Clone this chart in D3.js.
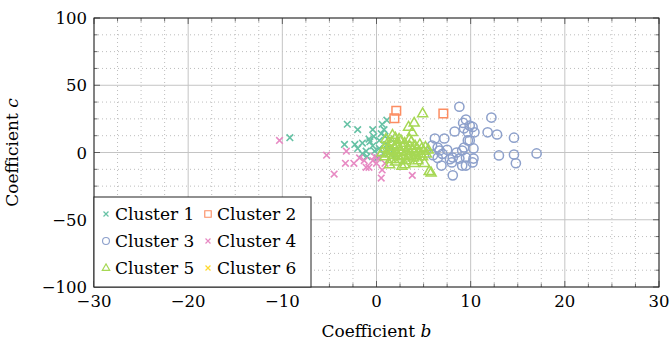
<!DOCTYPE html>
<html>
<head>
<meta charset="utf-8">
<script src="https://cdn.jsdelivr.net/npm/d3@7"></script>
<style>
  body { margin: 0; background: #fff; }
  text { font-family: "DejaVu Serif", "Liberation Serif", serif; }
</style>
</head>
<body>
<div id="chart"></div>
<script>
// cluster data: [b, c]
var cluster1 = [[-9.2, 11], [-3.1, 21], [-2.0, 17], [-0.4, 17], [0.6, 21], [1.1, 24], [-3.4, 6], [-2.3, 6],
  [-1.5, 7], [-0.7, 8], [-0.4, 5], [0.3, 9], [0.9, 12], [1.1, 6], [-1.1, 1], [-0.2, 1], [0.3, 3], [0.7, -1],
  [0.1, -4], [1.2, 1], [1.5, 4], [-2.0, 3], [-1.0, -3], [0.5, 14], [-0.3, 12], [0.8, 17], [1.5, 10],
  [1.8, 2], [-0.8, 10], [2.0, -2], [-1.5, -1]];
var cluster2 = [[2.1, 31], [1.9, 25.5], [7.1, 29]];
var cluster3 = [[8.8, 34], [9.5, 24.5], [9.2, 22], [9.9, 20], [10.2, 19], [9.3, 18], [9.7, 15], [8.3, 15.6],
  [7.2, 10.4], [6.2, 10.4], [5.9, 5.2], [6.5, 3.7], [6.7, 1.5], [9.9, 9], [10.3, 3], [9.1, 1.5], [8.5, 0],
  [8.1, -3.7], [8.8, -4.5], [8.0, -7.4], [9.5, -3.7], [10.2, -7.4], [6.9, -9.7], [8.1, -17], [9.1, -9.7],
  [9.3, 3.7], [12.2, 26], [11.8, 15], [12.8, 13.4], [14.6, 11], [10.4, 15], [13.0, -2.2], [14.6, -1.5],
  [14.8, -8], [17.0, -0.7], [10.3, -4.5], [9.5, -9.7], [6.0, -2], [6.5, -4], [7.0, -1], [7.5, 2],
  [7.8, -5], [9.7, 9]];
var cluster4 = [[-10.3, 9], [-5.3, -2], [-4.5, -16], [-3.2, 1], [-3.3, -8], [-2.4, -8], [-1.8, -4],
  [-1.1, -11], [-0.8, -11], [-0.4, -6], [0.0, -8], [0.6, -13], [0.5, -19], [3.8, -17], [-0.2, -3],
  [0.3, -4], [0.9, -8], [-1.3, -6]];
var cluster5 = [[4.9, 29], [4.0, 22], [3.4, 19], [3.8, 15], [1.7, 13], [2.4, 10], [5.8, -15], [5.1, -8],
  [5.6, -14], [0.6, 0], [0.8, 3], [0.9, -3], [1.1, 6], [1.2, -1], [1.3, 2], [1.5, -5], [1.6, 8], [1.7, 1],
  [1.8, -2], [1.9, 4], [2.0, -7], [2.1, 0], [2.2, 6], [2.3, -3], [2.4, 2], [2.5, -5], [2.6, 9], [2.7, 0],
  [2.8, 4], [2.9, -2], [3.0, 7], [3.1, -6], [3.2, 1], [3.3, 3], [3.4, -3], [3.5, 5], [3.6, -1], [3.7, 8],
  [3.8, 2], [3.9, -4], [4.0, 0], [4.1, 5], [4.2, -2], [4.3, 3], [4.4, -6], [4.5, 1], [4.6, 6], [4.7, -1],
  [4.8, 3], [4.9, -3], [5.0, 1], [5.2, 4], [5.3, -1], [5.5, 2], [1.0, 10], [2.0, 11], [3.5, 10],
  [1.4, -9], [3.0, -9], [4.0, -8], [2.7, -10]];
var cluster6 = [];

var names = ["Cluster 1", "Cluster 2", "Cluster 3", "Cluster 4", "Cluster 5", "Cluster 6"];
var colors = ["#66c2a5", "#fc8d62", "#8da0cb", "#e78ac3", "#a6d854", "#ffd92f"];
var shapes = ["x", "square", "circle", "x", "triangle", "x"];
var xTicks = [-30, -20, -10, 0, 10, 20, 30];
var yTicks = [-100, -50, 0, 50, 100];

var clusters = [cluster1, cluster2, cluster3, cluster4, cluster5, cluster6];

var margin = { top: 18, right: 11, bottom: 53, left: 94 },
    width = 670 - margin.left - margin.right,
    height = 340 - margin.top - margin.bottom;

var svg = d3.select("#chart").append("svg")
    .attr("width", 670)
    .attr("height", 340)
    .append("g")
    .attr("transform", "translate(" + margin.left + "," + margin.top + ")");

var x = d3.scaleLinear().domain([-30, 30]).range([0, width]);
var y = d3.scaleLinear().domain([-100, 100]).range([height, 0]);

// minor ticks: 4 intervals between majors
var xMinor = d3.range(-30, 30.01, 2.5).filter(function (d) { return d % 10 != 0; });
var yMinor = d3.range(-100, 100.01, 12.5).filter(function (d) { return d % 50 != 0; });

// minor grid (dotted)
svg.append("g").selectAll("line").data(xMinor).enter().append("line")
    .attr("x1", function (d) { return x(d); }).attr("x2", function (d) { return x(d); })
    .attr("y1", 0).attr("y2", height)
    .attr("stroke", "#bdbdbd").attr("stroke-width", 1).attr("stroke-dasharray", "1,3");
svg.append("g").selectAll("line").data(yMinor).enter().append("line")
    .attr("y1", function (d) { return y(d); }).attr("y2", function (d) { return y(d); })
    .attr("x1", 0).attr("x2", width)
    .attr("stroke", "#bdbdbd").attr("stroke-width", 1).attr("stroke-dasharray", "1,3");

// major grid
svg.append("g").selectAll("line").data(xTicks).enter().append("line")
    .attr("x1", function (d) { return x(d); }).attr("x2", function (d) { return x(d); })
    .attr("y1", 0).attr("y2", height)
    .attr("stroke", "#c4c4c4").attr("stroke-width", 1);
svg.append("g").selectAll("line").data(yTicks).enter().append("line")
    .attr("y1", function (d) { return y(d); }).attr("y2", function (d) { return y(d); })
    .attr("x1", 0).attr("x2", width)
    .attr("stroke", "#c4c4c4").attr("stroke-width", 1);

// ticks inside, all four sides
function tickLines(vals, len, horizontal) {
    var g = svg.append("g").attr("stroke", "#444").attr("stroke-width", 0.8);
    vals.forEach(function (d) {
        if (horizontal) {
            g.append("line").attr("x1", x(d)).attr("x2", x(d)).attr("y1", height).attr("y2", height - len);
            g.append("line").attr("x1", x(d)).attr("x2", x(d)).attr("y1", 0).attr("y2", len);
        } else {
            g.append("line").attr("y1", y(d)).attr("y2", y(d)).attr("x1", 0).attr("x2", len);
            g.append("line").attr("y1", y(d)).attr("y2", y(d)).attr("x1", width).attr("x2", width - len);
        }
    });
}
tickLines(xMinor, 3.5, true);
tickLines(yMinor, 3.5, false);
tickLines(xTicks, 6, true);
tickLines(yTicks, 6, false);

// markers
function markerPath(shape) {
    if (shape == "x") return "M-3.3,-3.3L3.3,3.3M-3.3,3.3L3.3,-3.3";
    if (shape == "square") return "M-4.3,-4.3H4.3V4.3H-4.3Z";
    if (shape == "triangle") return "M0,-5.5L5,3.2L-5,3.2Z";
    return null;
}
function drawMarker(g, shape, color) {
    if (shape == "circle") {
        g.append("circle").attr("r", 4.6).attr("fill", "none")
            .attr("stroke", color).attr("stroke-width", 1.5);
    } else {
        g.append("path").attr("d", markerPath(shape)).attr("fill", "none")
            .attr("stroke", color).attr("stroke-width", shape == "x" ? 1.6 : 1.5)
            .attr("stroke-linejoin", "miter");
    }
}

var plot = svg.append("g");
clusters.forEach(function (pts, i) {
    pts.forEach(function (p) {
        var g = plot.append("g").attr("transform", "translate(" + x(p[0]) + "," + y(p[1]) + ")");
        drawMarker(g, shapes[i], colors[i]);
    });
});

// frame
svg.append("rect").attr("width", width).attr("height", height)
    .attr("fill", "none").attr("stroke", "#222").attr("stroke-width", 1);

function fmt(d) { return d < 0 ? "\u2212" + Math.abs(d) : String(d); }

// tick labels
svg.append("g").selectAll("text").data(xTicks).enter().append("text")
    .attr("x", function (d) { return x(d); }).attr("y", height + 20)
    .attr("text-anchor", "middle").attr("font-size", 16.5)
    .text(fmt);
svg.append("g").selectAll("text").data(yTicks).enter().append("text")
    .attr("x", -7).attr("y", function (d) { return y(d) + 6; })
    .attr("text-anchor", "end").attr("font-size", 16.5)
    .text(fmt);

// axis labels
var xl = svg.append("text").attr("x", width / 2).attr("y", height + 50)
    .attr("text-anchor", "middle").attr("font-size", 17);
xl.append("tspan").text("Coefficient ");
xl.append("tspan").attr("font-style", "italic").text("b");

var yl = svg.append("text")
    .attr("transform", "translate(" + (-76) + "," + (height / 2) + ") rotate(-90)")
    .attr("text-anchor", "middle").attr("font-size", 17);
yl.append("tspan").text("Coefficient ");
yl.append("tspan").attr("font-style", "italic").text("c");

// legend
var lg = svg.append("g").attr("transform", "translate(0," + (height - 90) + ")");
lg.append("rect").attr("width", 217).attr("height", 90)
    .attr("fill", "#fff").attr("stroke", "#222").attr("stroke-width", 1);
names.forEach(function (n, i) {
    var col = i % 2, row = Math.floor(i / 2);
    var item = lg.append("g").attr("transform", "translate(" + (12 + col * 102) + "," + (17 + row * 27) + ")");
    var m = item.append("g").attr("transform", "scale(0.75)");
    drawMarker(m, shapes[i], colors[i]);
    item.append("text").attr("x", 9).attr("y", 6).attr("font-size", 17).text(n);
});
</script>
</body>
</html>
